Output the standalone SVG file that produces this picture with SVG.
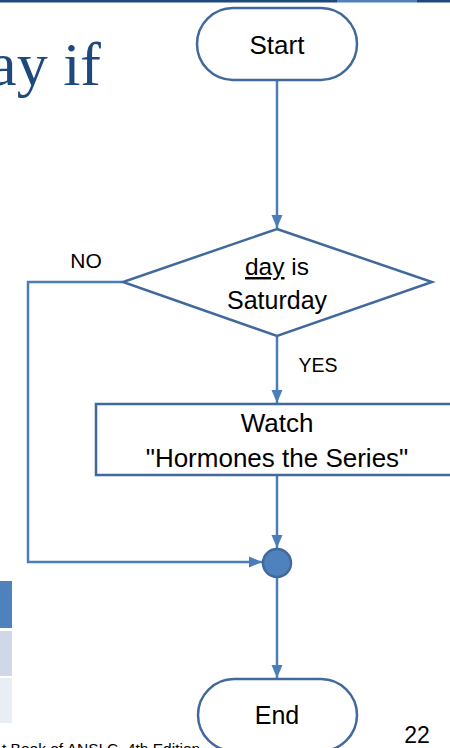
<svg xmlns="http://www.w3.org/2000/svg" width="450" height="748" viewBox="0 0 450 748">
<defs>
<style>
.t{font-family:"Liberation Sans",Arial,sans-serif;fill:#000;text-anchor:middle}
.shape{fill:#fff;stroke:#41699C;stroke-width:2.5}
.conn{fill:none;stroke:#4A7EBB;stroke-width:2.5}
</style>
<marker id="arr" markerUnits="userSpaceOnUse" markerWidth="14" markerHeight="14" viewBox="0 0 14 14" refX="13" refY="7" orient="auto">
<path d="M0,1.5 L13,7 L0,12.5 Z" fill="#4A7EBB"/>
</marker>
</defs>
<rect width="450" height="748" fill="#fff"/>
<g id="slide-bar">
<rect x="0" y="0" width="337" height="2.5" fill="#1F497D"/>
<rect x="337" y="0" width="80" height="2.5" fill="#4F81BD"/>
<rect x="417" y="0" width="33" height="2.5" fill="#1F497D"/>
</g>
<g id="title">
<text x="101" y="85" font-family="'Liberation Serif','Times New Roman',serif" font-size="62" fill="#1F497D" text-anchor="end">ay if</text>
</g>
<g id="table">
<rect x="0" y="581" width="12" height="47" fill="#4F81BD"/>
<rect x="0" y="631" width="12" height="45" fill="#D0D8E8"/>
<rect x="0" y="678" width="12" height="45" fill="#E9EDF4"/>
</g>
<g id="connectors">
<line class="conn" x1="277" y1="80" x2="277" y2="228" marker-end="url(#arr)"/>
<line class="conn" x1="277" y1="336" x2="277" y2="403" marker-end="url(#arr)"/>
<line class="conn" x1="277" y1="475" x2="277" y2="548" marker-end="url(#arr)"/>
<polyline class="conn" points="123,282 28,282 28,562 262,562" marker-end="url(#arr)"/>
<line class="conn" x1="277" y1="577" x2="277" y2="678" marker-end="url(#arr)"/>
<text class="t" x="86" y="268" font-size="21">NO</text>
<text class="t" x="318" y="372" font-size="19.5">YES</text>
</g>
<g id="start">
<rect class="shape" x="197" y="8" width="160" height="72" rx="36" ry="36"/>
<text class="t" x="277" y="54" font-size="26">Start</text>
</g>
<g id="decision">
<polygon class="shape" points="277,229 432,282 277,336 123,282"/>
<text class="t" x="277" y="275" font-size="24.5"><tspan text-decoration="underline">day</tspan> is</text>
<text class="t" x="277" y="309" font-size="25">Saturday</text>
</g>
<g id="watch">
<rect class="shape" x="96" y="404" width="364" height="71"/>
<text class="t" x="277" y="432" font-size="26">Watch</text>
<text class="t" x="277" y="467" font-size="26">"Hormones the Series"</text>
</g>
<g id="merge">
<circle cx="277" cy="563" r="14" fill="#4F81BD" stroke="#41699C" stroke-width="2.5"/>
</g>
<g id="end">
<rect class="shape" x="198" y="679" width="159" height="72" rx="36" ry="36"/>
<text class="t" x="277" y="724" font-size="25">End</text>
</g>
<g id="footer">
<text x="2" y="754" font-family="'Liberation Sans',Arial,sans-serif" font-size="15.5" fill="#000">t Book of ANSI C, 4th Edition</text>
<text x="417" y="743" font-family="'Liberation Sans',Arial,sans-serif" font-size="23" fill="#000" text-anchor="middle">22</text>
</g>
</svg>
